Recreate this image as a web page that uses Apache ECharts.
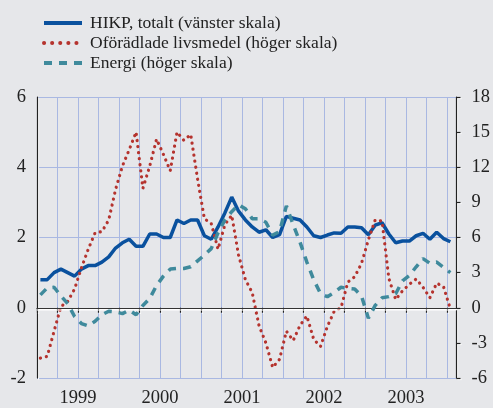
<!DOCTYPE html>
<html>
<head>
<meta charset="utf-8">
<script src="https://cdn.jsdelivr.net/npm/echarts@6/dist/echarts.min.js"></script>
<style>
  html, body { margin: 0; padding: 0; background: #e6e7ea; }
  #main { width: 493px; height: 408px; }
</style>
</head>
<body>
<div id="main"></div>
<script>
// monthly values, Jan 1999 .. Jan 2004
const hikp = [0.8, 0.8, 1.0, 1.1, 1.0, 0.9, 1.1, 1.2, 1.2, 1.3, 1.45, 1.7,
  1.85, 1.95, 1.75, 1.75, 2.1, 2.1, 2.0, 2.0, 2.5, 2.4, 2.5, 2.5,
  2.05, 1.95, 2.3, 2.7, 3.15, 2.75, 2.5, 2.3, 2.15, 2.22, 2.0, 2.08,
  2.6, 2.55, 2.5, 2.3, 2.05, 2.0, 2.07, 2.13, 2.12, 2.3, 2.3, 2.28,
  2.08, 2.35, 2.42, 2.1, 1.85, 1.9, 1.9, 2.05, 2.12, 1.95, 2.15, 1.97,
  1.88];
const food = [-4.3, -4.15, -2.0, 0.1, 0.55, 1.6, 3.4, 5.0, 6.4, 6.5, 7.5, 10.1,
  12.1, 13.5, 15.0, 10.2, 12.1, 14.4, 13.1, 11.7, 15.0, 14.3, 14.8, 11.0,
  7.6, 7.2, 5.0, 7.1, 7.9, 4.5, 2.4, 1.3, -1.55, -3.0, -5.1, -4.4,
  -2.0, -2.8, -1.5, -0.7, -2.7, -3.3, -1.6, -0.3, 0.0, 2.2, 2.65, 3.8,
  5.8, 7.5, 7.4, 2.5, 0.7, 1.45, 2.0, 2.45, 1.75, 0.85, 2.1, 1.8,
  -0.1];
const energy = [1.1, 1.7, 1.75, 1.0, 0.35, -0.75, -1.35, -1.55, -1.15, -0.6, -0.3, -0.35,
  -0.5, -0.2, -0.6, 0.2, 0.8, 1.9, 2.7, 3.3, 3.35, 3.35, 3.5, 4.0,
  4.5, 5.05, 6.4, 7.5, 8.2, 8.8, 8.45, 7.6, 7.6, 7.3, 6.2, 6.5,
  8.7, 7.1, 5.6, 3.9, 2.4, 1.2, 0.95, 1.3, 1.75, 1.65, 1.6, 1.0,
  -0.9, 0.2, 0.85, 0.95, 1.2, 2.3, 2.75, 3.5, 4.2, 3.8, 3.9, 3.45,
  3.0];
const years = ["1999", "2000", "2001", "2002", "2003"];
const names = ["HIKP, totalt (vänster skala)", "Oförädlade livsmedel (höger skala)", "Energi (höger skala)"];

const chart = echarts.init(document.getElementById("main"));

// x = month index + 0.5, so quarter boundaries fall on multiples of 3
const pts = (arr) => arr.map((v, i) => [i + 0.5, v]);
const font = "Liberation Serif";
const axisShadow = { shadowColor: "#ffffff", shadowOffsetX: 1, shadowOffsetY: 1, shadowBlur: 0 };

const option = {
  backgroundColor: "#e6e7ea",
  animation: false,
  textStyle: { fontFamily: font },
  legend: {
    orient: "vertical",
    left: 37,
    top: 9,
    itemWidth: 38,
    itemHeight: 14,
    itemGap: 2,
    data: [
      { name: names[0] },
      { name: names[1], lineStyle: { type: [0.1, 8], cap: "round", width: 4 } },
      { name: names[2], lineStyle: { type: [8, 7], width: 4 } }
    ],
    itemStyle: { opacity: 0 },
    lineStyle: { width: 4 },
    textStyle: { fontFamily: font, fontSize: 17.5, color: "#222", padding: [0, 0, 0, 3] }
  },
  grid: { left: 37, right: 34, top: 97, bottom: 26 },
  xAxis: {
    type: "value",
    min: 0,
    max: 61.4,
    interval: 3,
    axisLine: { show: true, lineStyle: Object.assign({ color: "#222", width: 1.2 }, axisShadow) },
    axisTick: { show: true, length: 5, lineStyle: Object.assign({ color: "#222", width: 1.2 }, axisShadow) },
    splitLine: { show: true, lineStyle: { color: "#a9b8e2", width: 1 } },
    axisLabel: {
      fontFamily: font, fontSize: 18.5, color: "#222", margin: 11,
      showMinLabel: true, showMaxLabel: false, hideOverlap: false,
      formatter: function (v) {
        const k = Math.round(v);
        if ((k - 6) % 12 === 0 && k >= 6) return years[(k - 6) / 12] || "";
        return "";
      }
    }
  },
  yAxis: [
    {
      type: "value",
      min: -2,
      max: 6,
      interval: 2,
      position: "left",
      axisLine: { show: true, lineStyle: Object.assign({ color: "#222", width: 1.2 }, axisShadow) },
      axisTick: { show: false },
      splitLine: { show: true, lineStyle: { color: "#a9b8e2", width: 1 } },
      axisLabel: { fontFamily: font, fontSize: 18.5, color: "#222", margin: 11 }
    },
    {
      type: "value",
      min: -6,
      max: 18,
      interval: 3,
      position: "right",
      axisLine: { show: true, lineStyle: Object.assign({ color: "#222", width: 1.2 }, axisShadow) },
      axisTick: { show: true, inside: false, length: 4, lineStyle: Object.assign({ color: "#222", width: 1.2 }, axisShadow) },
      splitLine: { show: false },
      axisLabel: { fontFamily: font, fontSize: 18.5, color: "#222", margin: 15 }
    }
  ],
  series: [
    {
      name: names[0],
      type: "line",
      yAxisIndex: 0,
      data: pts(hikp),
      showSymbol: false,
      symbol: "none",
      lineStyle: { color: "#0a519e", width: 3.5 },
      itemStyle: { color: "#0a519e" },
      z: 3,
      markLine: {
        silent: true,
        symbol: "none",
        label: { show: false },
        lineStyle: { color: "#333", width: 1, type: "solid", shadowColor: "#ffffff", shadowOffsetY: 1.5, shadowBlur: 0 },
        data: [{ yAxis: 0 }]
      }
    },
    {
      name: names[1],
      type: "line",
      yAxisIndex: 1,
      data: pts(food),
      showSymbol: false,
      symbol: "none",
      lineStyle: { color: "#b5332e", width: 3.2, type: [0.1, 6], cap: "round" },
      itemStyle: { color: "#b5332e" },
      z: 4
    },
    {
      name: names[2],
      type: "line",
      yAxisIndex: 1,
      data: pts(energy),
      showSymbol: false,
      symbol: "none",
      lineStyle: { color: "#3f8a9c", width: 3.5, type: [8, 7] },
      itemStyle: { color: "#3f8a9c" },
      z: 5
    }
  ]
};

chart.setOption(option);
</script>
</body>
</html>
